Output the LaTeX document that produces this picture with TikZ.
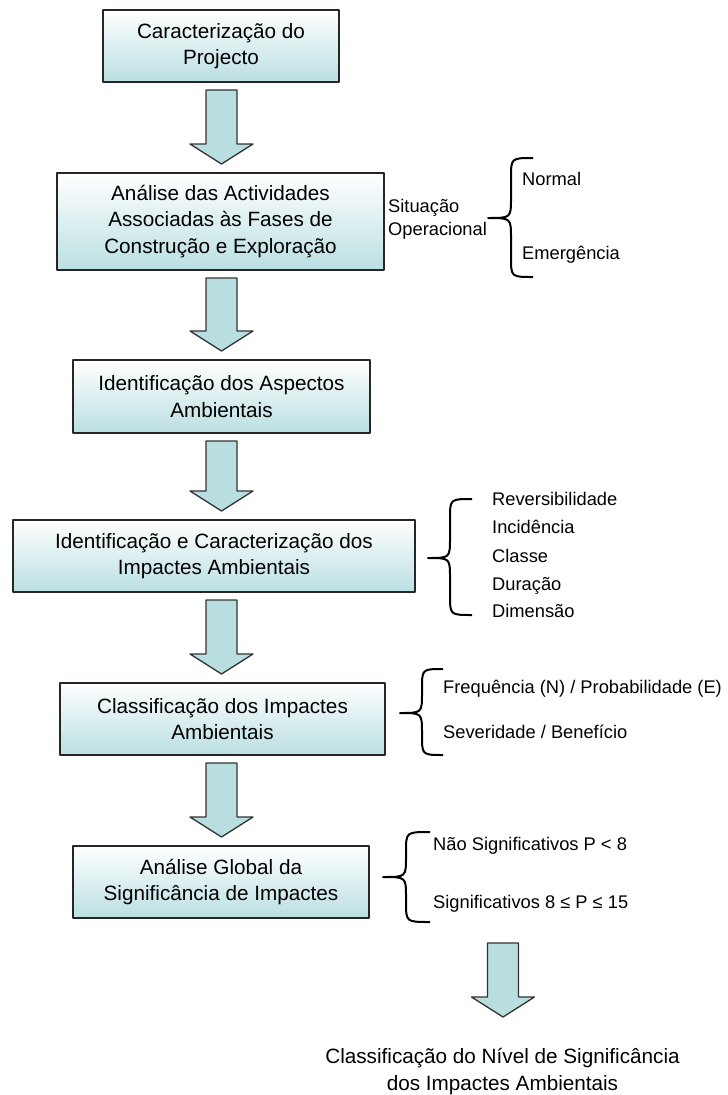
\documentclass[tikz,border=0pt]{standalone}
\usepackage{fontspec}
\setmainfont{Liberation Sans}
\usetikzlibrary{calc}

\definecolor{boxcyan}{RGB}{186,223,226}
\definecolor{arrowcyan}{RGB}{184,222,224}

% block arrow from a top point down to a tip point
\newcommand{\blockarrow}[2]{%
    \filldraw[bigarrow] let \p1 = #1, \p2 = #2 in
        (\x1-15.5pt,\y1) -- (\x1+15.5pt,\y1) -- (\x1+15.5pt,\y2+20pt) -- (\x1+31.5pt,\y2+20pt)
        -- (\x1,\y2) -- (\x1-31.5pt,\y2+20pt) -- (\x1-15.5pt,\y2+20pt) -- cycle;}
% curly brace: tip x, spine x, end x, top, tip y, bottom
\newcommand{\curly}[6]{%
    \draw[curl] (#3,#4) .. controls (#2,#4) .. (#2,#4+20) -- (#2,#5-20)
        .. controls (#2,#5) .. (#1,#5) .. controls (#2,#5) .. (#2,#5+20)
        -- (#2,#6-20) .. controls (#2,#6) .. (#3,#6);}

\begin{document}
\begin{tikzpicture}[x = 1pt, y = -1pt, line join = round]
    \tikzstyle{block} = [draw = black!85, line width = 2pt, top color = white, bottom color = boxcyan, shape = rectangle, align = center, inner sep = 0pt, font = \fontsize{20.7}{26.5}\selectfont]
    \tikzstyle{side} = [anchor = base west, inner sep = 0pt, align = left, font = \fontsize{18.3}{23}\selectfont]
    \tikzstyle{bigarrow} = [draw = black!80, line width = 1.3pt, fill = arrowcyan]
    \tikzstyle{curl} = [draw = black, line width = 2pt]

    \useasboundingbox (0,0) rectangle (728,1095);

    \node[block, minimum width = 236pt, minimum height = 72pt] (projecto) at (221,46) {Caracterização do\\Projecto};
    \node[block, minimum width = 327pt, minimum height = 97pt] (actividades) at (220.5,221.5) {Análise das Actividades\\Associadas às Fases de\\Construção e Exploração};
    \node[block, minimum width = 297pt, minimum height = 73pt] (aspectos) at (221.5,396.5) {Identificação dos Aspectos\\Ambientais};
    \node[block, minimum width = 402pt, minimum height = 72pt] (impactes) at (214,556) {Identificação e Caracterização dos\\Impactes Ambientais};
    \node[block, minimum width = 325pt, minimum height = 72pt] (classif) at (222.5,719) {Classificação dos Impactes\\Ambientais};
    \node[block, minimum width = 296pt, minimum height = 72pt] (global) at (221,882) {Análise Global da\\Significância de Impactes};
    \node[anchor = north, inner sep = 0pt, align = center, font = \fontsize{20.7}{27}\selectfont] (nivel) at (502.5,1048) {Classificação do Nível de Significância\\dos Impactes Ambientais};

    \coordinate (col) at (221.5,0);
    \coordinate (endtop) at (503,943);
    \blockarrow{($(col |- projecto.south)+(0,7)$)}{($(col |- actividades.north)+(0,-8)$)}
    \blockarrow{($(col |- actividades.south)+(0,7)$)}{($(col |- aspectos.north)+(0,-8)$)}
    \blockarrow{($(col |- aspectos.south)+(0,7)$)}{($(col |- impactes.north)+(0,-8)$)}
    \blockarrow{($(col |- impactes.south)+(0,7)$)}{($(col |- classif.north)+(0,-8)$)}
    \blockarrow{($(col |- classif.south)+(0,7)$)}{($(col |- global.north)+(0,-8)$)}
    \blockarrow{(endtop)}{($(nivel.north)+(0,-31)$)}

    % situacao operacional
    \node[side, anchor = west] (situacao) at (388,219) {Situação\\Operacional};
    \curly{488}{511}{533}{158}{218}{277}
    \node[side] (normal) at (522,185) {Normal};
    \node[side] (emerg) at (522,259) {Emergência};

    % caracterizacao
    \curly{428}{450}{472}{499}{558}{615}
    \node[side] (revers) at (492,505) {Reversibilidade};
    \node[side] (incid) at (492,533) {Incidência};
    \node[side] (classe) at (492,562) {Classe};
    \node[side] (duracao) at (492,590) {Duração};
    \node[side] (dimensao) at (492,617) {Dimensão};

    % classificacao
    \curly{400}{422}{443}{669}{713}{755}
    \node[side] (freq) at (443,693) {Frequência (N) / Probabilidade (E)};
    \node[side] (sever) at (443,738) {Severidade / Benefício};

    % significancia
    \curly{383}{406}{430}{832}{877}{922}
    \node[side] (naosig) at (433,850) {Não Significativos P < 8};
    \node[side] (sig) at (433,908) {Significativos 8 ≤ P ≤ 15};
\end{tikzpicture}
\end{document}
